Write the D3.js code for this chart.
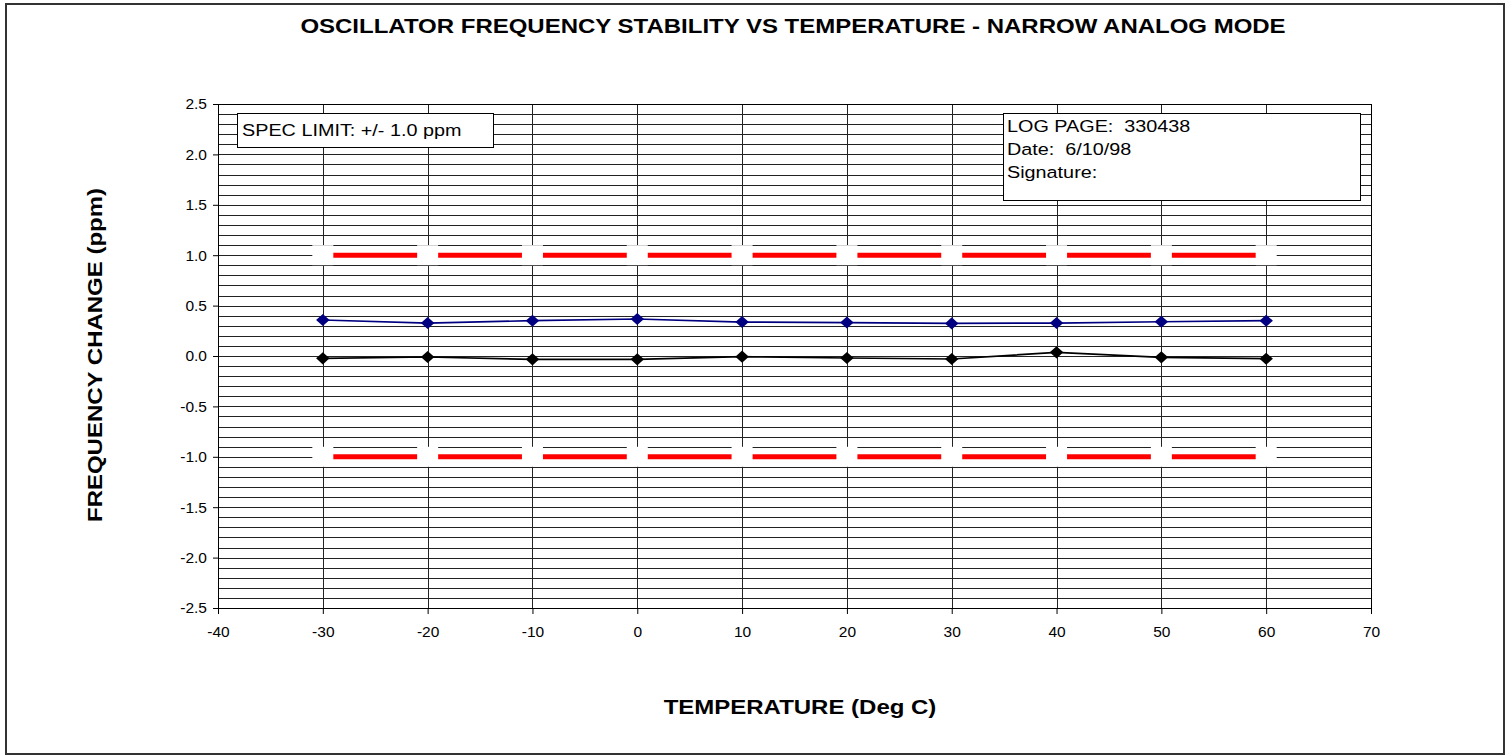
<!DOCTYPE html>
<html>
<head>
<meta charset="utf-8">
<script src="https://cdn.jsdelivr.net/npm/d3@7"></script>
<style>
  body { margin: 0; background: #fff; }
  svg { display: block; font-family: "Liberation Sans", Arial, sans-serif; }
</style>
</head>
<body>
<svg id="chart" width="1512" height="756"></svg>
<script>
// temperatures (deg C) where readings were taken
const temps = [-30, -20, -10, 0, 10, 20, 30, 40, 50, 60];
// frequency change readings (ppm)
const upperSeries = [0.357, 0.327, 0.350, 0.367, 0.337, 0.332, 0.323, 0.327, 0.340, 0.350];
const lowerSeries = [-0.023, -0.010, -0.033, -0.033, -0.007, -0.020, -0.030, 0.036, -0.013, -0.027];
const specLimits = [1.0, -1.0];

const xTicks = d3.range(-40, 71, 10);
const yTicks = d3.range(-2.5, 2.51, 0.5);
const yMinor = d3.range(-25, 26, 1).map(d => d / 10);

const svg = d3.select("#chart");

// outer frame
svg.append("rect")
  .attr("x", 6).attr("y", 4).attr("width", 1498).attr("height", 750)
  .attr("fill", "#fff").attr("stroke", "#333").attr("stroke-width", 2);

const x = d3.scaleLinear().domain([-40, 70]).range([218, 1371]);
const y = d3.scaleLinear().domain([-2.5, 2.5]).range([608, 104]);

const grid = svg.append("g").attr("shape-rendering", "crispEdges");

// horizontal gridlines every 0.1
grid.selectAll("line.h")
  .data(yMinor)
  .join("line")
  .attr("class", "h")
  .attr("x1", x(-40)).attr("x2", x(70))
  .attr("y1", d => Math.round(y(d)) + 0.5).attr("y2", d => Math.round(y(d)) + 0.5)
  .attr("stroke", "#222").attr("stroke-width", 1);

// vertical gridlines at each major x tick
grid.selectAll("line.v")
  .data(xTicks)
  .join("line")
  .attr("class", "v")
  .attr("x1", d => Math.round(x(d)) + 0.5).attr("x2", d => Math.round(x(d)) + 0.5)
  .attr("y1", y(2.5)).attr("y2", y(-2.5))
  .attr("stroke", "#222").attr("stroke-width", 1);

// plot border
grid.append("rect")
  .attr("x", x(-40) + 0.5).attr("y", y(2.5) + 0.5)
  .attr("width", x(70) - x(-40)).attr("height", y(-2.5) - y(2.5))
  .attr("fill", "none").attr("stroke", "#000");

// axes (plain hyphen for negatives, like the original)
const hyphen = f => d => f(d).replace("\u2212", "-");
const xAxis = d3.axisBottom(x).tickValues(xTicks).tickSize(6).tickPadding(12)
  .tickFormat(hyphen(d3.format("d")));
const yAxis = d3.axisLeft(y).tickValues(yTicks).tickSize(5).tickPadding(6)
  .tickFormat(hyphen(d3.format(".1f")));

const gx = svg.append("g").attr("transform", `translate(0,${y(-2.5)})`).call(xAxis);
const gy = svg.append("g").attr("transform", `translate(${x(-40)},0)`).call(yAxis);
[gx, gy].forEach(g => {
  g.select(".domain").attr("stroke", "#000");
  g.selectAll(".tick line").attr("stroke", "#000");
  g.selectAll(".tick text")
    .attr("fill", "#000")
    .style("font-size", "15.5px")
    .style("font-family", "'Liberation Sans', Arial, sans-serif");
});

// spec limit lines with white square markers
const specLine = d3.line().x(d => x(d)).y(0);
specLimits.forEach(lim => {
  const g = svg.append("g").attr("transform", `translate(0,${y(lim)})`);
  g.append("path")
    .attr("d", specLine(temps))
    .attr("fill", "none").attr("stroke", "#ff0000").attr("stroke-width", 5);
  g.selectAll("rect")
    .data(temps)
    .join("rect")
    .attr("x", d => x(d) - 10.5).attr("y", -10)
    .attr("width", 21).attr("height", 20)
    .attr("fill", "#fff");
});

// data series
const diamond = d3.symbol().type(d3.symbolSquare).size(82);
function drawSeries(values, color, width) {
  const pts = temps.map((t, i) => [t, values[i]]);
  svg.append("path")
    .datum(pts)
    .attr("d", d3.line().x(d => x(d[0])).y(d => y(d[1])))
    .attr("fill", "none").attr("stroke", color).attr("stroke-width", width);
  svg.append("g").selectAll("path")
    .data(pts)
    .join("path")
    .attr("d", diamond)
    .attr("transform", d => `translate(${x(d[0])},${y(d[1])}) scale(1.05,0.95) rotate(45)`)
    .attr("fill", color);
}
drawSeries(upperSeries, "#000080", 1.7);
drawSeries(lowerSeries, "#000000", 1.7);

// note boxes (text in the original is drawn a little wide)
const spec = svg.append("g");
spec.append("rect")
  .attr("x", 237.5).attr("y", 113.5).attr("width", 256).attr("height", 34)
  .attr("fill", "#fff").attr("stroke", "#000");
spec.append("text")
  .attr("transform", "translate(242,136) scale(1.2,1)")
  .style("font-size", "16.5px").text("SPEC LIMIT: +/- 1.0 ppm");

const logLines = ["LOG PAGE:  330438", "Date:  6/10/98", "Signature:"];
const logBox = svg.append("g");
logBox.append("rect")
  .attr("x", 1003.5).attr("y", 113.5).attr("width", 357).attr("height", 87)
  .attr("fill", "#fff").attr("stroke", "#000");
logBox.selectAll("text")
  .data(logLines)
  .join("text")
  .attr("transform", (d, i) => `translate(1007,${132 + i * 23}) scale(1.2,1)`)
  .style("font-size", "16.5px").style("white-space", "pre")
  .attr("xml:space", "preserve")
  .text(d => d);

// titles
svg.append("text")
  .attr("transform", "translate(793,33) scale(1.2,1)")
  .attr("text-anchor", "middle")
  .style("font-size", "20px").style("font-weight", "bold")
  .text("OSCILLATOR FREQUENCY STABILITY VS TEMPERATURE - NARROW ANALOG MODE");

svg.append("text")
  .attr("transform", "translate(800,714) scale(1.2,1)")
  .attr("text-anchor", "middle")
  .style("font-size", "20px").style("font-weight", "bold")
  .text("TEMPERATURE (Deg C)");

svg.append("text")
  .attr("transform", `translate(102,355) rotate(-90) scale(1.2,1)`)
  .attr("text-anchor", "middle")
  .style("font-size", "20px").style("font-weight", "bold")
  .text("FREQUENCY CHANGE (ppm)");
</script>
</body>
</html>
